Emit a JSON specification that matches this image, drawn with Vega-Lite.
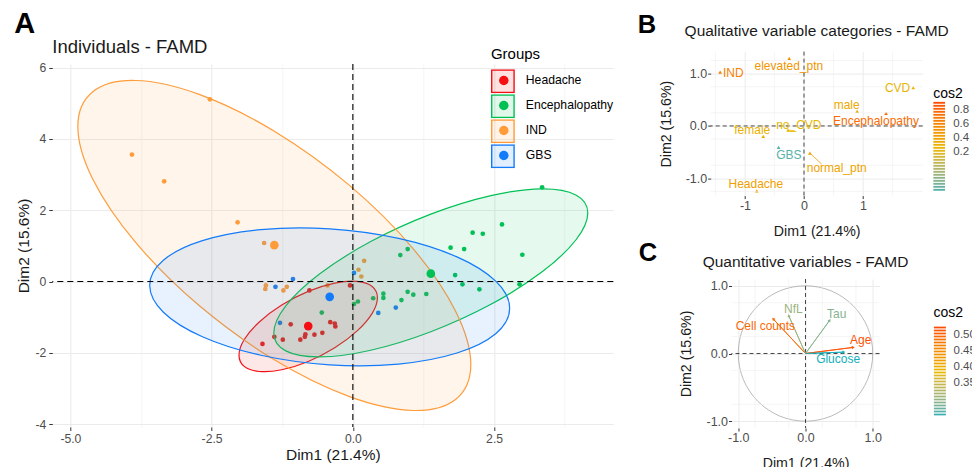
{
  "$schema": "https://vega.github.io/schema/vega-lite/v6.json",
  "background": "white",
  "padding": {"left": 13.3, "top": 9.6, "right": 0, "bottom": 0},
  "config": {
    "font": "Liberation Sans",
    "view": {"stroke": null},
    "axis": {"domain": false, "grid": true, "gridColor": "#EBEBEB", "tickColor": "#333333", "labelColor": "#4D4D4D", "titleColor": "#1A1A1A", "titleFontWeight": "normal", "labelFlush": false, "labelOverlap": false, "tickSize": 3.5, "labelPadding": 2},
    "legend": {"padding": 0},
    "title": {"fontWeight": "normal", "color": "#1A1A1A"}
  },
  "resolve": {"scale": {"color": "independent", "fill": "independent", "stroke": "independent"}, "legend": {"color": "independent", "fill": "independent", "stroke": "independent"}},
  "datasets": {
    "pts": [
      {"g": "Headache", "x": -0.77, "y": -0.25}, {"g": "Headache", "x": -0.05, "y": -0.11}, {"g": "Headache", "x": -1.10, "y": -1.20}, {"g": "Headache", "x": -0.40, "y": -1.14}, {"g": "Headache", "x": -0.32, "y": -1.18}, {"g": "Headache", "x": -0.31, "y": -1.26}, {"g": "Headache", "x": -1.39, "y": -1.55}, {"g": "Headache", "x": -1.24, "y": -1.63}, {"g": "Headache", "x": -1.60, "y": -1.75}, {"g": "Headache", "x": -0.93, "y": -1.63}, {"g": "Headache", "x": -0.85, "y": -1.55}, {"g": "Headache", "x": -0.84, "y": -1.48}, {"g": "Headache", "x": -0.68, "y": -1.49}, {"g": "Headache", "x": -0.54, "y": -1.44},
      {"g": "Encephalopathy", "x": -0.55, "y": -0.87}, {"g": "Encephalopathy", "x": 0.02, "y": -0.63}, {"g": "Encephalopathy", "x": 0.09, "y": -0.56}, {"g": "Encephalopathy", "x": 0.36, "y": -0.47}, {"g": "Encephalopathy", "x": 0.54, "y": -0.34}, {"g": "Encephalopathy", "x": 0.54, "y": -0.46}, {"g": "Encephalopathy", "x": 0.86, "y": -0.52}, {"g": "Encephalopathy", "x": 0.97, "y": -0.29}, {"g": "Encephalopathy", "x": 1.07, "y": -0.37}, {"g": "Encephalopathy", "x": 1.30, "y": -0.35}, {"g": "Encephalopathy", "x": 0.84, "y": 0.74}, {"g": "Encephalopathy", "x": 0.97, "y": 0.91}, {"g": "Encephalopathy", "x": 1.73, "y": 0.95}, {"g": "Encephalopathy", "x": 1.81, "y": 0.18}, {"g": "Encephalopathy", "x": 1.97, "y": 0.91}, {"g": "Encephalopathy", "x": 1.94, "y": -0.08}, {"g": "Encephalopathy", "x": 2.12, "y": 1.37}, {"g": "Encephalopathy", "x": 2.30, "y": 1.34}, {"g": "Encephalopathy", "x": 2.64, "y": 1.60}, {"g": "Encephalopathy", "x": 3.00, "y": 0.75}, {"g": "Encephalopathy", "x": 2.24, "y": -0.22}, {"g": "Encephalopathy", "x": 2.95, "y": -0.08}, {"g": "Encephalopathy", "x": 3.35, "y": 2.64},
      {"g": "IND", "x": -2.53, "y": 5.11}, {"g": "IND", "x": -3.91, "y": 3.56}, {"g": "IND", "x": -3.34, "y": 2.81}, {"g": "IND", "x": -2.04, "y": 1.66}, {"g": "IND", "x": -1.57, "y": 1.08}, {"g": "IND", "x": -1.54, "y": -0.11}, {"g": "IND", "x": -1.55, "y": -0.21}, {"g": "IND", "x": -1.23, "y": -0.25}, {"g": "IND", "x": -1.17, "y": -0.15}, {"g": "IND", "x": -0.45, "y": -0.11}, {"g": "IND", "x": 0.10, "y": 0.33}, {"g": "IND", "x": 0.15, "y": 0.14}, {"g": "IND", "x": 0.20, "y": 0.58},
      {"g": "GBS", "x": -1.06, "y": 0.07}, {"g": "GBS", "x": -1.37, "y": -0.15}, {"g": "GBS", "x": 0.02, "y": 0.24}, {"g": "GBS", "x": -1.29, "y": -1.16}, {"g": "GBS", "x": 0.45, "y": -0.88}, {"g": "GBS", "x": 0.76, "y": -0.73}
    ],
    "cent": [
      {"g": "Headache", "x": -0.79, "y": -1.25}, {"g": "Encephalopathy", "x": 1.38, "y": 0.22}, {"g": "IND", "x": -1.39, "y": 1.02}, {"g": "GBS", "x": -0.41, "y": -0.43}
    ],
    "ell": [
      {"g": "Headache", "i": 0, "x": 0.435, "y": -0.455}, {"g": "Headache", "i": 1, "x": 0.342, "y": -0.140}, {"g": "Headache", "i": 2, "x": 0.076, "y": 0.003}, {"g": "Headache", "i": 3, "x": -0.321, "y": -0.045}, {"g": "Headache", "i": 4, "x": -0.79, "y": -0.278}, {"g": "Headache", "i": 5, "x": -1.259, "y": -0.661}, {"g": "Headache", "i": 6, "x": -1.656, "y": -1.135}, {"g": "Headache", "i": 7, "x": -1.922, "y": -1.628}, {"g": "Headache", "i": 8, "x": -2.015, "y": -2.065}, {"g": "Headache", "i": 9, "x": -1.922, "y": -2.380}, {"g": "Headache", "i": 10, "x": -1.656, "y": -2.523}, {"g": "Headache", "i": 11, "x": -1.259, "y": -2.475}, {"g": "Headache", "i": 12, "x": -0.79, "y": -2.242}, {"g": "Headache", "i": 13, "x": -0.321, "y": -1.859}, {"g": "Headache", "i": 14, "x": 0.076, "y": -1.385}, {"g": "Headache", "i": 15, "x": 0.342, "y": -0.892},
      {"g": "Encephalopathy", "i": 0, "x": 4.159, "y": 1.923}, {"g": "Encephalopathy", "i": 1, "x": 3.947, "y": 2.426}, {"g": "Encephalopathy", "i": 2, "x": 3.345, "y": 2.596}, {"g": "Encephalopathy", "i": 3, "x": 2.444, "y": 2.408}, {"g": "Encephalopathy", "i": 4, "x": 1.38, "y": 1.889}, {"g": "Encephalopathy", "i": 5, "x": 0.316, "y": 1.120}, {"g": "Encephalopathy", "i": 6, "x": -0.585, "y": 0.216}, {"g": "Encephalopathy", "i": 7, "x": -1.187, "y": -0.684}, {"g": "Encephalopathy", "i": 8, "x": -1.399, "y": -1.443}, {"g": "Encephalopathy", "i": 9, "x": -1.187, "y": -1.946}, {"g": "Encephalopathy", "i": 10, "x": -0.585, "y": -2.116}, {"g": "Encephalopathy", "i": 11, "x": 0.316, "y": -1.928}, {"g": "Encephalopathy", "i": 12, "x": 1.38, "y": -1.409}, {"g": "Encephalopathy", "i": 13, "x": 2.444, "y": -0.640}, {"g": "Encephalopathy", "i": 14, "x": 3.345, "y": 0.264}, {"g": "Encephalopathy", "i": 15, "x": 3.947, "y": 1.164},
      {"g": "IND", "i": 0, "x": 2.088, "y": -2.328}, {"g": "IND", "i": 1, "x": 1.823, "y": -3.301}, {"g": "IND", "i": 2, "x": 1.069, "y": -3.617}, {"g": "IND", "i": 3, "x": -0.059, "y": -3.229}, {"g": "IND", "i": 4, "x": -1.39, "y": -2.196}, {"g": "IND", "i": 5, "x": -2.721, "y": -0.675}, {"g": "IND", "i": 6, "x": -3.849, "y": 1.103}, {"g": "IND", "i": 7, "x": -4.603, "y": 2.867}, {"g": "IND", "i": 8, "x": -4.868, "y": 4.348}, {"g": "IND", "i": 9, "x": -4.603, "y": 5.321}, {"g": "IND", "i": 10, "x": -3.849, "y": 5.637}, {"g": "IND", "i": 11, "x": -2.721, "y": 5.249}, {"g": "IND", "i": 12, "x": -1.39, "y": 4.216}, {"g": "IND", "i": 13, "x": -0.059, "y": 2.695}, {"g": "IND", "i": 14, "x": 1.069, "y": 0.917}, {"g": "IND", "i": 15, "x": 1.823, "y": -0.847},
      {"g": "GBS", "i": 0, "x": 2.776, "y": -0.753}, {"g": "GBS", "i": 1, "x": 2.534, "y": -1.458}, {"g": "GBS", "i": 2, "x": 1.843, "y": -2.006}, {"g": "GBS", "i": 3, "x": 0.809, "y": -2.315}, {"g": "GBS", "i": 4, "x": -0.41, "y": -2.337}, {"g": "GBS", "i": 5, "x": -1.629, "y": -2.069}, {"g": "GBS", "i": 6, "x": -2.663, "y": -1.550}, {"g": "GBS", "i": 7, "x": -3.354, "y": -0.862}, {"g": "GBS", "i": 8, "x": -3.596, "y": -0.107}, {"g": "GBS", "i": 9, "x": -3.354, "y": 0.598}, {"g": "GBS", "i": 10, "x": -2.663, "y": 1.146}, {"g": "GBS", "i": 11, "x": -1.629, "y": 1.455}, {"g": "GBS", "i": 12, "x": -0.41, "y": 1.477}, {"g": "GBS", "i": 13, "x": 0.809, "y": 1.209}, {"g": "GBS", "i": 14, "x": 1.843, "y": 0.690}, {"g": "GBS", "i": 15, "x": 2.534, "y": 0.002}
    ],
    "qual": [
      {"cat": "IND", "x": -1.42, "y": 1.03, "lx": -1.198, "ly": 1.015, "cos2": 0.72},
      {"cat": "elevated_ptn", "x": -0.25, "y": 1.29, "lx": -0.257, "ly": 1.142, "cos2": 0.62},
      {"cat": "CVD", "x": 1.85, "y": 0.73, "lx": 1.585, "ly": 0.721, "cos2": 0.47},
      {"cat": "male", "x": 0.90, "y": 0.28, "lx": 0.723, "ly": 0.395, "cos2": 0.53},
      {"cat": "Encephalopathy", "x": 1.39, "y": 0.24, "lx": 1.220, "ly": 0.101, "cos2": 0.80},
      {"cat": "no_CVD", "x": -0.27, "y": -0.08, "lx": -0.088, "ly": 0.013, "cos2": 0.46},
      {"cat": "female", "x": -0.69, "y": -0.20, "lx": -0.876, "ly": -0.073, "cos2": 0.50},
      {"cat": "GBS", "x": -0.43, "y": -0.41, "lx": -0.257, "ly": -0.560, "cos2": 0.08},
      {"cat": "normal_ptn", "x": 0.10, "y": -0.52, "lx": 0.554, "ly": -0.805, "cos2": 0.56},
      {"cat": "Headache", "x": -0.80, "y": -1.24, "lx": -0.816, "ly": -1.113, "cos2": 0.58}
    ],
    "seg": [
      {"cat": "no_CVD", "x": -0.27, "y": -0.08, "x2": -0.16, "y2": -0.09, "cos2": 0.46},
      {"cat": "normal_ptn", "x": 0.10, "y": -0.52, "x2": 0.30, "y2": -0.73, "cos2": 0.56}
    ],
    "quant": [
      {"v": "Cell counts", "x": -0.48, "y": 0.51, "lx": -0.597, "ly": 0.404, "cos2": 0.505},
      {"v": "NfL", "x": -0.25, "y": 0.56, "lx": -0.179, "ly": 0.661, "cos2": 0.375},
      {"v": "Tau", "x": 0.36, "y": 0.49, "lx": 0.463, "ly": 0.587, "cos2": 0.365},
      {"v": "Age", "x": 0.71, "y": 0.09, "lx": 0.821, "ly": 0.192, "cos2": 0.52},
      {"v": "Glucose", "x": 0.57, "y": 0.02, "lx": 0.485, "ly": -0.084, "cos2": 0.335}
    ],
    "circ": [
      {"i": 0, "x": 1, "y": 0}, {"i": 1, "x": 0.924, "y": 0.383}, {"i": 2, "x": 0.707, "y": 0.707}, {"i": 3, "x": 0.383, "y": 0.924}, {"i": 4, "x": 0, "y": 1}, {"i": 5, "x": -0.383, "y": 0.924}, {"i": 6, "x": -0.707, "y": 0.707}, {"i": 7, "x": -0.924, "y": 0.383}, {"i": 8, "x": -1, "y": 0}, {"i": 9, "x": -0.924, "y": -0.383}, {"i": 10, "x": -0.707, "y": -0.707}, {"i": 11, "x": -0.383, "y": -0.924}, {"i": 12, "x": 0, "y": -1}, {"i": 13, "x": 0.383, "y": -0.924}, {"i": 14, "x": 0.707, "y": -0.707}, {"i": 15, "x": 0.924, "y": -0.383}
    ]
  },
  "concat": [
    {
      "title": {"text": "A", "anchor": "start", "frame": "bounds", "fontSize": 29, "fontWeight": "bold", "color": "black", "dx": -2.8, "offset": -1},
      "concat": [
        {"data": {"values": []}, "mark": {"type": "point", "opacity": 0}, "width": 1, "height": 1},
        {
          "width": 561, "height": 363,
          "title": {"text": "Individuals - FAMD", "anchor": "start", "frame": "group", "fontSize": 18.5, "offset": 5.4},
          "layer": [
            {
              "data": {"name": "pts"},
              "mark": {"type": "circle", "size": 22, "opacity": 1},
              "encoding": {
                "x": {"field": "x", "type": "quantitative", "title": "Dim1 (21.4%)", "scale": {"domain": [-5.32, 4.61], "nice": false, "zero": false},
                  "axis": {"values": [-5, -3.75, -2.5, -1.25, 0, 1.25, 2.5, 3.75], "labelExpr": "datum.value % 2.5 === 0 ? replace(format(datum.value, '.1f'), '\u2212', '-') : ''", "gridWidth": {"condition": {"test": "datum.value % 2.5 === 0", "value": 1.1}, "value": 0.55}, "tickOpacity": {"condition": {"test": "datum.value % 2.5 === 0", "value": 1}, "value": 0}, "labelFontSize": 12.2, "titleFontSize": 15.5, "titlePadding": 3}},
                "y": {"field": "y", "type": "quantitative", "title": "Dim2 (15.6%)", "scale": {"domain": [-4.08, 6.10], "nice": false, "zero": false},
                  "axis": {"values": [-4, -3, -2, -1, 0, 1, 2, 3, 4, 5, 6], "labelExpr": "datum.value % 2 === 0 ? replace(format(datum.value, 'd'), '\u2212', '-') : ''", "gridWidth": {"condition": {"test": "datum.value % 2 === 0", "value": 1.1}, "value": 0.55}, "tickOpacity": {"condition": {"test": "datum.value % 2 === 0", "value": 1}, "value": 0}, "labelFontSize": 12.2, "titleFontSize": 15.5, "titlePadding": 3, "labelPadding": 3}},
                "color": {"field": "g", "type": "nominal", "scale": {"domain": ["Headache", "Encephalopathy", "IND", "GBS"], "range": ["#F50F14", "#00C155", "#FF9C3A", "#137BFA"]},
                  "legend": {"title": "Groups", "orient": "none", "legendX": 438.6, "legendY": -4.2, "direction": "vertical", "symbolType": "circle", "symbolSize": 90, "symbolStrokeWidth": 0, "symbolOffset": 6.8, "labelOffset": 15.9, "labelFontSize": 12.2, "labelColor": "black", "titleFontSize": 15, "titleFontWeight": "normal", "titleColor": "black", "titlePadding": 6, "clipHeight": 24.2, "rowPadding": 0, "symbolOpacity": 1}}
              }
            },
            {
              "data": {"name": "ell"},
              "mark": {"type": "line", "interpolate": "cardinal-closed", "fillOpacity": 0.1, "strokeWidth": 1.2},
              "encoding": {
                "x": {"field": "x", "type": "quantitative", "title": "Dim1 (21.4%)"},
                "y": {"field": "y", "type": "quantitative", "title": "Dim2 (15.6%)"},
                "order": {"field": "i", "type": "quantitative"},
                "fill": {"field": "g", "type": "nominal", "sort": null, "scale": {"range": ["#F50F14", "#00C155", "#FF9C3A", "#137BFA"]},
                  "legend": {"title": null, "orient": "none", "legendX": 438.6, "legendY": 17.55, "direction": "vertical", "symbolType": "square", "symbolSize": 500, "symbolStrokeWidth": 1.4, "labelExpr": "''", "clipHeight": 24.2, "rowPadding": 0, "encode": {"symbols": {"update": {"fillOpacity": {"value": 0.12}}}}}},
                "stroke": {"field": "g", "type": "nominal", "sort": null, "scale": {"range": ["#F50F14", "#00C155", "#FF9C3A", "#137BFA"]}}
              }
            },
            {
              "data": {"name": "cent"},
              "mark": {"type": "circle", "size": 75, "opacity": 1},
              "encoding": {
                "x": {"field": "x", "type": "quantitative", "title": "Dim1 (21.4%)"},
                "y": {"field": "y", "type": "quantitative", "title": "Dim2 (15.6%)"},
                "color": {"field": "g", "type": "nominal"}
              }
            },
            {
              "data": {"values": [{}]},
              "mark": {"type": "rule", "strokeDash": [6, 4], "color": "black", "strokeWidth": 1.1},
              "encoding": {"x": {"datum": 0, "type": "quantitative"}}
            },
            {
              "data": {"values": [{}]},
              "mark": {"type": "rule", "strokeDash": [6, 4], "color": "black", "strokeWidth": 1.1},
              "encoding": {"y": {"datum": 0, "type": "quantitative"}}
            }
          ]
        }
      ],
      "columns": 1,
      "spacing": -15.6
    },
    {
      "resolve": {"scale": {"color": "independent", "stroke": "independent"}, "legend": {"color": "independent", "stroke": "independent"}},
      "concat": [
        {
          "title": {"text": "B", "anchor": "start", "frame": "bounds", "fontSize": 25.5, "fontWeight": "bold", "color": "black", "dx": -21.5, "offset": -13.6},
          "resolve": {"scale": {"color": "independent", "stroke": "independent"}, "legend": {"color": "independent", "stroke": "independent"}},
          "concat": [
            {
              "width": 212, "height": 144,
              "title": {"text": "Qualitative variable categories - FAMD", "anchor": "middle", "frame": "group", "fontSize": 15.5, "offset": 11.2},
              "layer": [
                {
                  "data": {"name": "qual"},
                  "mark": {"type": "point", "shape": "triangle-up", "filled": true, "size": 14, "opacity": 1},
                  "encoding": {
                    "x": {"field": "x", "type": "quantitative", "title": "Dim1 (21.4%)", "scale": {"domain": [-1.58, 2.01], "nice": false, "zero": false},
                      "axis": {"values": [-1, 0, 1], "format": "d", "labelExpr": "replace(datum.label, '\u2212', '-')", "gridWidth": 1, "labelFontSize": 12.5, "titleFontSize": 14.2, "titlePadding": 12, "tickSize": 3, "labelPadding": 1}},
                    "y": {"field": "y", "type": "quantitative", "title": "Dim2 (15.6%)", "scale": {"domain": [-1.33, 1.42], "nice": false, "zero": false},
                      "axis": {"values": [-1, -0.5, 0, 0.5, 1], "format": ".1f", "labelExpr": "replace(datum.label, '\u2212', '-')", "gridWidth": 1, "labelFontSize": 12.5, "titleFontSize": 14.2, "titlePadding": 12, "tickSize": 3, "labelPadding": 1}},
                    "color": {"field": "cos2", "type": "quantitative", "scale": {"domain": [0.022, 0.457, 0.893], "range": ["#00AFBB", "#E7B800", "#FC4E07"], "interpolate": "lab"},
                      "legend": {"type": "symbol", "title": null, "orient": "none", "legendX": 222.5, "legendY": 50.2, "direction": "vertical", "values": [0.89, 0.862, 0.834, 0.806, 0.778, 0.75, 0.722, 0.694, 0.666, 0.638, 0.61, 0.582, 0.554, 0.526, 0.498, 0.47, 0.442, 0.414, 0.386, 0.358, 0.33, 0.302, 0.274, 0.246, 0.218, 0.19, 0.162, 0.134, 0.106, 0.078, 0.05, 0.022], "symbolType": "M-1,-0.2H1V0.2H-1Z", "symbolSize": 144, "symbolStrokeWidth": 0, "symbolOpacity": 1, "clipHeight": 1.9, "rowPadding": 0, "labelExpr": "''", "labelFontSize": 1, "labelOffset": 0, "labelLimit": 1}}
                  }
                },
                {"data": {"values": [{}]}, "mark": {"type": "rule", "color": "#EFEFEF", "strokeWidth": 0.6}, "encoding": {"x": {"datum": -1.5, "type": "quantitative"}}},
                {"data": {"values": [{}]}, "mark": {"type": "rule", "color": "#EFEFEF", "strokeWidth": 0.6}, "encoding": {"x": {"datum": -0.5, "type": "quantitative"}}},
                {"data": {"values": [{}]}, "mark": {"type": "rule", "color": "#EFEFEF", "strokeWidth": 0.6}, "encoding": {"x": {"datum": 0.5, "type": "quantitative"}}},
                {"data": {"values": [{}]}, "mark": {"type": "rule", "color": "#EFEFEF", "strokeWidth": 0.6}, "encoding": {"x": {"datum": 1.5, "type": "quantitative"}}},
                {"data": {"values": [{}]}, "mark": {"type": "rule", "color": "#EFEFEF", "strokeWidth": 0.6}, "encoding": {"y": {"datum": -1.25, "type": "quantitative"}}},
                {"data": {"values": [{}]}, "mark": {"type": "rule", "color": "#EFEFEF", "strokeWidth": 0.6}, "encoding": {"y": {"datum": -0.75, "type": "quantitative"}}},
                {"data": {"values": [{}]}, "mark": {"type": "rule", "color": "#EFEFEF", "strokeWidth": 0.6}, "encoding": {"y": {"datum": -0.25, "type": "quantitative"}}},
                {"data": {"values": [{}]}, "mark": {"type": "rule", "color": "#EFEFEF", "strokeWidth": 0.6}, "encoding": {"y": {"datum": 0.25, "type": "quantitative"}}},
                {"data": {"values": [{}]}, "mark": {"type": "rule", "color": "#EFEFEF", "strokeWidth": 0.6}, "encoding": {"y": {"datum": 0.75, "type": "quantitative"}}},
                {"data": {"values": [{}]}, "mark": {"type": "rule", "color": "#EFEFEF", "strokeWidth": 0.6}, "encoding": {"y": {"datum": 1.25, "type": "quantitative"}}},
                {
                  "data": {"values": [{}]},
                  "mark": {"type": "rule", "strokeDash": [4, 3], "color": "#333333", "strokeWidth": 0.9},
                  "encoding": {"x": {"datum": 0, "type": "quantitative"}}
                },
                {
                  "data": {"values": [{}]},
                  "mark": {"type": "rule", "strokeDash": [4, 3], "color": "#333333", "strokeWidth": 0.9},
                  "encoding": {"y": {"datum": 0, "type": "quantitative"}}
                },
                {
                  "data": {"name": "seg"},
                  "mark": {"type": "rule", "strokeWidth": 0.8},
                  "encoding": {
                    "x": {"field": "x", "type": "quantitative", "title": "Dim1 (21.4%)"},
                    "y": {"field": "y", "type": "quantitative", "title": "Dim2 (15.6%)"},
                    "x2": {"field": "x2"},
                    "y2": {"field": "y2"},
                    "stroke": {"field": "cos2", "type": "quantitative", "scale": {"domain": [0.0221, 0.457, 0.893], "range": ["#00AFBB", "#E7B800", "#FC4E07"], "interpolate": "lab"},
                      "legend": {"type": "symbol", "title": "cos2", "orient": "none", "legendX": 222.5, "legendY": 35.0, "direction": "vertical", "values": [0.8, 0.6, 0.4, 0.2], "format": ".1f", "symbolType": "square", "symbolSize": 144, "symbolStrokeWidth": 0, "symbolOpacity": 0, "clipHeight": 14, "rowPadding": 0, "labelFontSize": 11.5, "labelColor": "#4D4D4D", "labelOffset": 8, "titleFontSize": 14, "titleFontWeight": "normal", "titleColor": "black", "titlePadding": 2.85}}
                  }
                },
                {
                  "data": {"name": "qual"},
                  "mark": {"type": "text", "fontSize": 12},
                  "encoding": {
                    "x": {"field": "lx", "type": "quantitative", "title": "Dim1 (21.4%)"},
                    "y": {"field": "ly", "type": "quantitative", "title": "Dim2 (15.6%)"},
                    "text": {"field": "cat"},
                    "color": {"field": "cos2", "type": "quantitative"}
                  }
                }
              ]
            }
          ],
          "columns": 1
        },
        {
          "title": {"text": "C", "anchor": "start", "frame": "bounds", "fontSize": 25.5, "fontWeight": "bold", "color": "black", "dx": -41.3, "offset": -12.1},
          "resolve": {"scale": {"color": "independent", "stroke": "independent"}, "legend": {"color": "independent", "stroke": "independent"}},
          "concat": [
            {"data": {"values": []}, "mark": {"type": "point", "opacity": 0}, "width": 1, "height": 1},
            {
              "width": 148, "height": 149,
              "title": {"text": "Quantitative variables - FAMD", "anchor": "middle", "frame": "group", "fontSize": 15.5, "offset": 8.2},
              "layer": [
                {
                  "data": {"name": "circ"},
                  "mark": {"type": "line", "interpolate": "cardinal-closed", "stroke": "#A8A8A8", "strokeWidth": 0.8},
                  "encoding": {
                    "x": {"field": "x", "type": "quantitative", "title": "Dim1 (21.4%)", "scale": {"domain": [-1.1, 1.1], "nice": false, "zero": false},
                      "axis": {"values": [-1, -0.5, 0, 0.5, 1], "format": ".1f", "labelExpr": "replace(datum.label, '\u2212', '-')", "gridWidth": 1, "labelFontSize": 12.5, "titleFontSize": 14.2, "titlePadding": 12, "tickSize": 3, "labelPadding": 1}},
                    "y": {"field": "y", "type": "quantitative", "title": "Dim2 (15.6%)", "scale": {"domain": [-1.1, 1.1], "nice": false, "zero": false},
                      "axis": {"values": [-1, -0.5, 0, 0.5, 1], "format": ".1f", "labelExpr": "replace(datum.label, '\u2212', '-')", "gridWidth": 1, "labelFontSize": 12.5, "titleFontSize": 14.2, "titlePadding": 12, "tickSize": 3, "labelPadding": 1}},
                    "order": {"field": "i", "type": "quantitative"}
                  }
                },
                {"data": {"values": [{}]}, "mark": {"type": "rule", "color": "#EFEFEF", "strokeWidth": 0.6}, "encoding": {"x": {"datum": -0.75, "type": "quantitative"}}},
                {"data": {"values": [{}]}, "mark": {"type": "rule", "color": "#EFEFEF", "strokeWidth": 0.6}, "encoding": {"x": {"datum": -0.25, "type": "quantitative"}}},
                {"data": {"values": [{}]}, "mark": {"type": "rule", "color": "#EFEFEF", "strokeWidth": 0.6}, "encoding": {"x": {"datum": 0.25, "type": "quantitative"}}},
                {"data": {"values": [{}]}, "mark": {"type": "rule", "color": "#EFEFEF", "strokeWidth": 0.6}, "encoding": {"x": {"datum": 0.75, "type": "quantitative"}}},
                {"data": {"values": [{}]}, "mark": {"type": "rule", "color": "#EFEFEF", "strokeWidth": 0.6}, "encoding": {"y": {"datum": -0.75, "type": "quantitative"}}},
                {"data": {"values": [{}]}, "mark": {"type": "rule", "color": "#EFEFEF", "strokeWidth": 0.6}, "encoding": {"y": {"datum": -0.25, "type": "quantitative"}}},
                {"data": {"values": [{}]}, "mark": {"type": "rule", "color": "#EFEFEF", "strokeWidth": 0.6}, "encoding": {"y": {"datum": 0.25, "type": "quantitative"}}},
                {"data": {"values": [{}]}, "mark": {"type": "rule", "color": "#EFEFEF", "strokeWidth": 0.6}, "encoding": {"y": {"datum": 0.75, "type": "quantitative"}}},
                {
                  "data": {"values": [{}]},
                  "mark": {"type": "rule", "strokeDash": [4, 3], "color": "#333333", "strokeWidth": 0.9},
                  "encoding": {"x": {"datum": 0, "type": "quantitative"}}
                },
                {
                  "data": {"values": [{}]},
                  "mark": {"type": "rule", "strokeDash": [4, 3], "color": "#333333", "strokeWidth": 0.9},
                  "encoding": {"y": {"datum": 0, "type": "quantitative"}}
                },
                {
                  "data": {"name": "quant"},
                  "mark": {"type": "rule", "strokeWidth": 0.9},
                  "encoding": {
                    "x": {"field": "x", "type": "quantitative", "title": "Dim1 (21.4%)"},
                    "y": {"field": "y", "type": "quantitative", "title": "Dim2 (15.6%)"},
                    "x2": {"datum": 0},
                    "y2": {"datum": 0},
                    "stroke": {"field": "cos2", "type": "quantitative", "scale": {"domain": [0.3341, 0.4285, 0.523], "range": ["#00AFBB", "#E7B800", "#FC4E07"], "interpolate": "lab"},
                      "legend": {"type": "symbol", "title": "cos2", "orient": "none", "legendX": 202, "legendY": 26.8, "direction": "vertical", "values": [0.5, 0.45, 0.4, 0.35], "format": ".2f", "symbolType": "square", "symbolSize": 144, "symbolStrokeWidth": 0, "symbolOpacity": 0, "clipHeight": 15.9, "rowPadding": 0, "labelFontSize": 11.5, "labelColor": "#4D4D4D", "labelOffset": 8, "titleFontSize": 14, "titleFontWeight": "normal", "titleColor": "black", "titlePadding": 7.15}}
                  }
                },
                {
                  "data": {"name": "quant"},
                  "mark": {"type": "rule", "strokeWidth": 0.9},
                  "encoding": {
                    "x": {"field": "x", "type": "quantitative", "title": "Dim1 (21.4%)"},
                    "y": {"field": "y", "type": "quantitative", "title": "Dim2 (15.6%)"},
                    "x2": {"datum": 0},
                    "y2": {"datum": 0},
                    "color": {"field": "cos2", "type": "quantitative", "scale": {"domain": [0.334, 0.4285, 0.523], "range": ["#00AFBB", "#E7B800", "#FC4E07"], "interpolate": "lab"},
                      "legend": {"type": "symbol", "title": null, "orient": "none", "legendX": 200.9, "legendY": 47.5, "direction": "vertical", "values": [0.523, 0.5167, 0.5104, 0.5041, 0.4978, 0.4915, 0.4852, 0.4789, 0.4726, 0.4663, 0.46, 0.4537, 0.4474, 0.4411, 0.4348, 0.4285, 0.4222, 0.4159, 0.4096, 0.4033, 0.397, 0.3907, 0.3844, 0.3781, 0.3718, 0.3655, 0.3592, 0.3529, 0.3466, 0.3403, 0.334], "symbolType": "M-1,0H1", "symbolSize": 144, "symbolStrokeWidth": 2.4, "symbolOpacity": 1, "clipHeight": 1.9, "rowPadding": 0, "labelExpr": "''", "labelFontSize": 1, "labelOffset": 0, "labelLimit": 1}}
                  }
                },
                {
                  "data": {"name": "quant"},
                  "mark": {"type": "point", "shape": "triangle-up", "filled": true, "size": 12, "opacity": 1, "angle": {"expr": "atan2(datum.x, datum.y) * 180 / PI"}},
                  "encoding": {
                    "x": {"field": "x", "type": "quantitative", "title": "Dim1 (21.4%)"},
                    "y": {"field": "y", "type": "quantitative", "title": "Dim2 (15.6%)"},
                    "fill": {"field": "cos2", "type": "quantitative", "scale": {"domain": [0.334, 0.4285, 0.523], "range": ["#00AFBB", "#E7B800", "#FC4E07"], "interpolate": "lab"}, "legend": null}
                  }
                },
                {
                  "data": {"name": "quant"},
                  "mark": {"type": "text", "fontSize": 12},
                  "encoding": {
                    "x": {"field": "lx", "type": "quantitative", "title": "Dim1 (21.4%)"},
                    "y": {"field": "ly", "type": "quantitative", "title": "Dim2 (15.6%)"},
                    "text": {"field": "v"},
                    "color": {"field": "cos2", "type": "quantitative"}
                  }
                }
              ]
            }
          ],
          "columns": 2,
          "spacing": -32.2
        }
      ],
      "columns": 1,
      "spacing": 2.4
    }
  ],
  "columns": 2,
  "spacing": 22.4
}
